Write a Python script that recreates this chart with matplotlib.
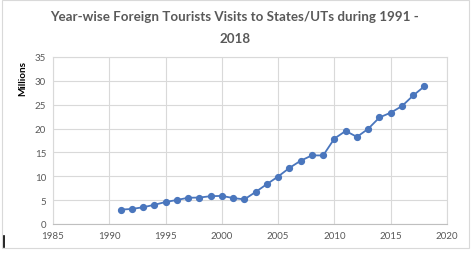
import matplotlib
matplotlib.use("Agg")
import matplotlib.pyplot as plt
from matplotlib.patches import Rectangle
from matplotlib.lines import Line2D

years = [1991, 1992, 1993, 1994, 1995, 1996, 1997, 1998, 1999, 2000,
         2001, 2002, 2003, 2004, 2005, 2006, 2007, 2008, 2009, 2010,
         2011, 2012, 2013, 2014, 2015, 2016, 2017, 2018]
visits = [3.02, 3.15, 3.51, 4.02, 4.61, 5.03, 5.50, 5.54, 5.83, 5.89,
          5.44, 5.16, 6.71, 8.36, 9.95, 11.75, 13.26, 14.38, 14.37, 17.91,
          19.50, 18.25, 19.95, 22.33, 23.33, 24.71, 26.94, 28.87]
x_ticks = [1985, 1990, 1995, 2000, 2005, 2010, 2015, 2020]
y_ticks = [0, 5, 10, 15, 20, 25, 30, 35]
title_l1 = "Year-wise Foreign Tourists Visits to States/UTs during 1991 -"
title_l2 = "2018"

W, H = 474, 255
fig = plt.figure(figsize=(W / 100, H / 100), dpi=100)
fig.patch.set_facecolor("white")

# chart border
fig.add_artist(Rectangle((2 / W, 1 - 249 / H), 467 / W, 248 / H,
                         transform=fig.transFigure, fill=False,
                         edgecolor="#d9d9d9", linewidth=0.8))
# cursor mark
fig.add_artist(Line2D([4 / W, 4 / W], [1 - 248 / H, 1 - 237 / H],
                      transform=fig.transFigure, color="black", linewidth=1.2))

ax = fig.add_axes([53 / W, 1 - 225 / H, (447 - 53) / W, (225 - 58) / H])
ax.plot(years, visits, color="#4a76bd", linewidth=1.3, marker="o",
        markersize=4.2, markerfacecolor="#4a76bd", markeredgecolor="#4a76bd")
ax.set_xlim(1985, 2020)
ax.set_ylim(0, 35)
ax.set_xticks(x_ticks)
ax.set_yticks(y_ticks)
ax.grid(True, color="#d9d9d9", linewidth=0.8)
ax.set_axisbelow(True)
for s in ax.spines.values():
    s.set_color("#d9d9d9")
    s.set_linewidth(0.8)
ax.spines["bottom"].set_color("#bfbfbf")
ax.tick_params(length=0, labelsize=7, labelcolor="#595959", pad=5)
for lab in ax.get_xticklabels() + ax.get_yticklabels():
    lab.set_fontfamily("Lato")

fig.text(235 / W, 1 - 17 / H, title_l1, ha="center", va="center",
         fontsize=9.6, fontweight="bold", color="#595959", family="Lato")
fig.text(235 / W, 1 - 39 / H, title_l2, ha="center", va="center",
         fontsize=9.6, fontweight="bold", color="#595959", family="Lato")
fig.text(23 / W, 1 - 78 / H, "Millions", rotation=90, ha="center", va="center",
         fontsize=7.2, fontweight="bold", color="black", family="Lato")

fig.savefig("out.png", dpi=100)
